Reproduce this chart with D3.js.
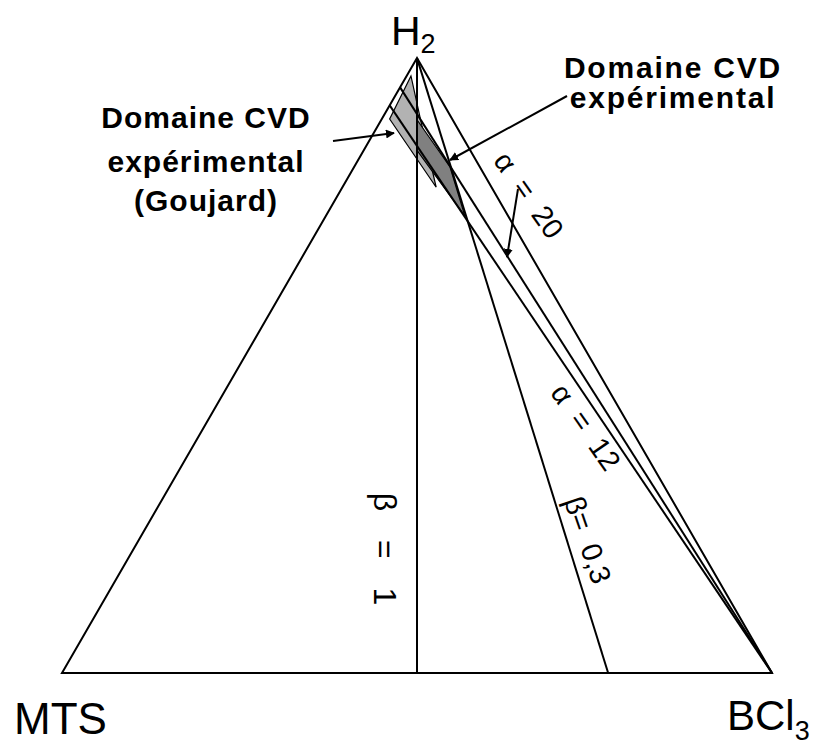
<!DOCTYPE html>
<html>
<head>
<meta charset="utf-8">
<script src="https://cdn.jsdelivr.net/npm/d3@7"></script>
<style>
  html, body { margin: 0; padding: 0; background: #fff; }
  svg { display: block; }
  text { font-family: "Liberation Sans", Arial, Helvetica, sans-serif; fill: #000; }
</style>
</head>
<body>
<svg id="chart" width="816" height="748"></svg>
<script>
// Ternary composition: h = H2, m = MTS, b = BCl3 (molar fractions)
const corners = [
  { name: "H", sub: "2", h: 1, m: 0, b: 0 },
  { name: "MTS", sub: "", h: 0, m: 1, b: 0 },
  { name: "BCl", sub: "3", h: 0, m: 0, b: 1 }
];

// β = MTS / BCl3  (lines through the H2 corner)
const betaValues = [1, 0.3];
const betaLabels = ["β = 1", "β= 0,3"];

// α = H2 / MTS  (lines through the BCl3 corner)
const alphaValues = [12, 20];
const alphaLabels = ["α = 12", "α = 20"];

// Experimental CVD domains (h, m, b)
const goujardDomain = [
  { h: 0.971, m: 0.023, b: 0.006 },
  { h: 0.901, m: 0.088, b: 0.011 },
  { h: 0.790, m: 0.078, b: 0.132 },
  { h: 0.900, m: 0.045, b: 0.055 }
];
const cvdDomain = [
  { h: 0.899, m: 0.050, b: 0.051 },
  { h: 0.823, m: 0.042, b: 0.135 },
  { h: 0.743, m: 0.061, b: 0.196 },
  { h: 0.850, m: 0.075, b: 0.075 }
];

const domainLabels = [
  ["Domaine CVD", "expérimental", "(Goujard)"],
  ["Domaine CVD", "expérimental"]
];

const svg = d3.select("#chart");
const SQ = Math.sqrt(3) / 2;

// Cartesian projection of the equilateral triangle
const x = d3.scaleLinear().domain([0, 1]).range([62, 772]);
const y = d3.scaleLinear().domain([0, SQ]).range([673, 673 - 710 * SQ]);
const pt = p => [x(p.b + p.h / 2), y(p.h * SQ)];

const line = d3.line();

// Shaded domains
svg.append("path")
  .attr("d", line(goujardDomain.map(pt)) + "Z")
  .attr("fill", "#b2b2b2").attr("stroke", "#000").attr("stroke-width", 1.2);
svg.append("path")
  .attr("d", line(cvdDomain.map(pt)) + "Z")
  .attr("fill", "#808080").attr("stroke", "#000").attr("stroke-width", 1.2);

const lines = svg.append("g").attr("fill", "none").attr("stroke", "#000").attr("stroke-width", 2);

// Triangle outline
lines.append("path").attr("d", line(corners.map(pt)) + "Z").attr("stroke-linejoin", "miter");

// β lines: from H2 corner to the MTS–BCl3 side
betaValues.forEach(beta => {
  const foot = { h: 0, m: beta / (1 + beta), b: 1 / (1 + beta) };
  lines.append("path").attr("d", line([pt(corners[0]), pt(foot)]));
});

// α lines: from BCl3 corner to the H2–MTS side
alphaValues.forEach(alpha => {
  const foot = { h: alpha / (1 + alpha), m: 1 / (1 + alpha), b: 0 };
  lines.append("path").attr("d", line([pt(foot), pt(corners[2])]));
});

// Corner labels
const cornerPos = [
  { x: 391, y: 45, size: 41, subSize: 27, dy: 8 },
  { x: 14, y: 734, size: 44, subSize: 0, dy: 0 },
  { x: 727, y: 730, size: 42, subSize: 27, dy: 10 }
];
corners.forEach((c, i) => {
  const p = cornerPos[i];
  const t = svg.append("text").attr("x", p.x).attr("y", p.y).attr("font-size", p.size);
  t.append("tspan").text(c.name);
  if (c.sub) t.append("tspan").attr("font-size", p.subSize).attr("dy", p.dy).text(c.sub);
});

// Line labels
const betaLabelPos = [
  { cx: 385, cy: 549, rot: 90, size: 32, ws: 20 },
  { cx: 588, cy: 540, rot: 71, size: 29, ws: 8 }
];
betaLabels.forEach((s, i) => {
  const p = betaLabelPos[i];
  svg.append("text")
    .attr("transform", `translate(${p.cx},${p.cy}) rotate(${p.rot})`)
    .attr("text-anchor", "middle").attr("dy", "0.35em")
    .attr("font-size", p.size).attr("word-spacing", p.ws)
    .text(s);
});
const alphaLabelPos = [
  { cx: 586, cy: 427, rot: 55, size: 29 },
  { cx: 529, cy: 195, rot: 55, size: 29 }
];
alphaLabels.forEach((s, i) => {
  const p = alphaLabelPos[i];
  svg.append("text")
    .attr("transform", `translate(${p.cx},${p.cy}) rotate(${p.rot})`)
    .attr("text-anchor", "middle").attr("dy", "0.35em")
    .attr("font-size", p.size).attr("word-spacing", 8)
    .text(s);
});

// Domain labels
const domainLabelPos = [
  { cx: 206, ys: [128, 172, 211], ls: 1 },
  { cx: 673, ys: [78, 108], ls: 1.8 }
];
domainLabels.forEach((lbl, i) => {
  const p = domainLabelPos[i];
  lbl.forEach((s, j) => {
    svg.append("text")
      .attr("x", p.cx).attr("y", p.ys[j])
      .attr("text-anchor", "middle")
      .attr("font-size", 30).attr("font-weight", "bold")
      .attr("letter-spacing", p.ls)
      .text(s);
  });
});

// Arrowhead
svg.append("defs").append("marker")
  .attr("id", "head").attr("viewBox", "0 0 10 10")
  .attr("refX", 9).attr("refY", 5)
  .attr("markerWidth", 9).attr("markerHeight", 9)
  .attr("markerUnits", "userSpaceOnUse")
  .attr("orient", "auto")
  .append("path").attr("d", "M0,0 L10,5 L0,10 Z").attr("fill", "#000");

const arrows = [
  [[333, 141], [394, 133]],
  [[567, 96], [450, 160]],
  [[518, 189], [507, 257]]
];
arrows.forEach(a => {
  svg.append("path")
    .attr("d", line(a))
    .attr("stroke", "#000").attr("stroke-width", 2)
    .attr("fill", "none")
    .attr("marker-end", "url(#head)");
});
</script>
</body>
</html>
